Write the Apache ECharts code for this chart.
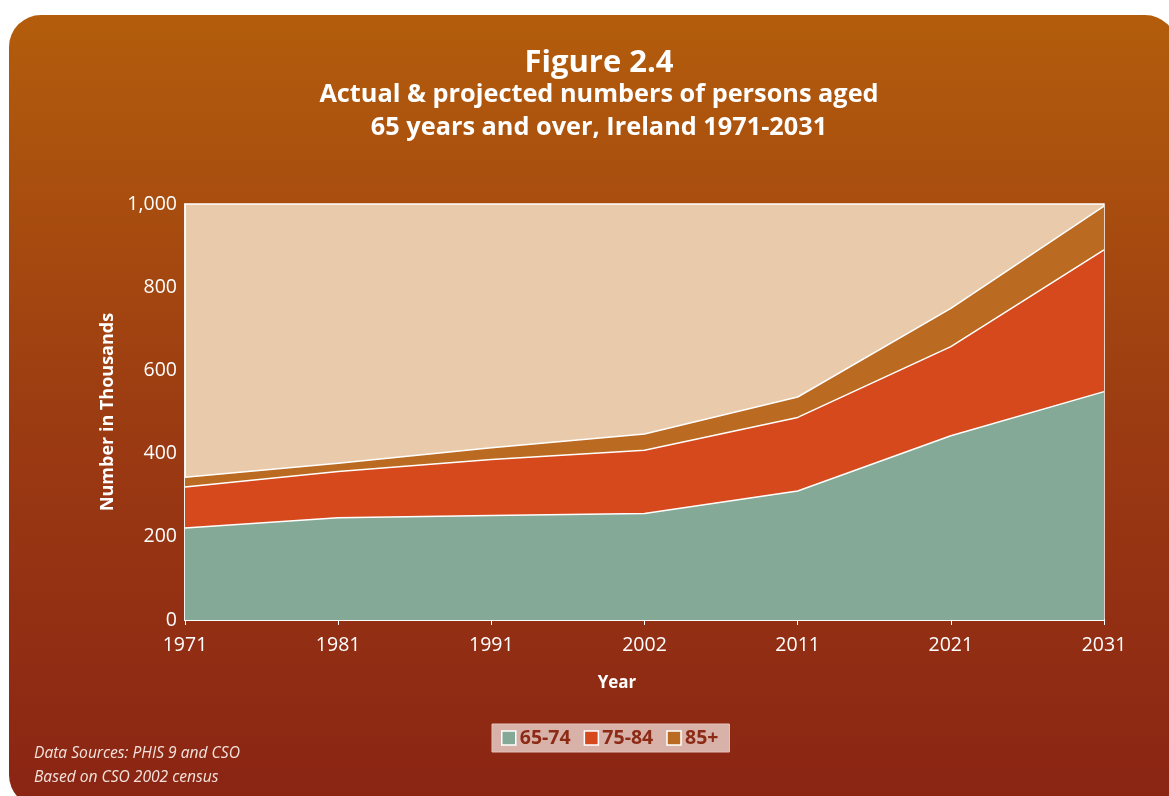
<!DOCTYPE html>
<html>
<head>
<meta charset="utf-8">
<script src="https://cdn.jsdelivr.net/npm/echarts@6/dist/echarts.min.js"></script>
<style>
html,body{margin:0;padding:0;background:#fff;}
#c{width:1169px;height:796px;}
</style>
</head>
<body>
<div id="c"></div>
<script>
var years = ['1971','1981','1991','2002','2011','2021','2031'];
var age65to74 = [221, 246, 251, 256, 310, 443, 549];
var age75to84 = [99, 111, 135, 152, 177, 214, 341];
var age85plus = [23, 20, 28, 39, 49, 92, 105];
var seriesNames = ['65-74', '75-84', '85+'];
var seriesColors = ['#84a996', '#d5491c', '#bb6a22'];

var FONT = '"Open Sans", "Noto Sans", sans-serif';
var chart = echarts.init(document.getElementById('c'), null, {renderer: 'canvas'});

function mk(name, data, color) {
  return {
    name: name,
    type: 'line',
    stack: 'total',
    data: data,
    symbol: 'none',
    smooth: false,
    color: color,
    itemStyle: {color: color, borderColor: '#ffffff', borderWidth: 1.5},
    lineStyle: {color: '#ffffff', width: 1.5},
    areaStyle: {color: color, opacity: 1},
    emphasis: {disabled: true}
  };
}

chart.setOption({
  animation: false,
  backgroundColor: 'transparent',
  graphic: [{
    type: 'rect',
    z: -10,
    shape: {x: 9, y: 15, width: 1168, height: 792, r: 32},
    style: {
      fill: new echarts.graphic.LinearGradient(0, 0, 0, 1, [
        {offset: 0, color: '#b35d0c'},
        {offset: 0.5, color: '#9c3c12'},
        {offset: 1, color: '#8a2414'}
      ])
    }
  }, {
    type: 'text',
    left: 34, top: 742,
    style: {text: 'Data Sources: PHIS 9 and CSO\nBased on CSO 2002 census', fill: '#f3e3dc',
      font: 'italic 15.6px ' + FONT, lineHeight: 24}
  }, {
    type: 'text',
    x: 617, y: 683,
    style: {text: 'Year', fill: '#ffffff', font: 'bold 17px ' + FONT, align: 'center', verticalAlign: 'middle'}
  }],
  title: {
    text: 'Figure 2.4',
    subtext: 'Actual & projected numbers of persons aged\n65 years and over, Ireland 1971-2031',
    left: 594, textAlign: 'center', top: 38,
    itemGap: -5,
    textStyle: {color: '#ffffff', fontFamily: FONT, fontWeight: 'bold', fontSize: 31, lineHeight: 40},
    subtextStyle: {color: '#ffffff', fontFamily: FONT, fontWeight: 'bold', fontSize: 25.3, lineHeight: 33}
  },
  legend: {
    data: seriesNames,
    left: 492, top: 724,
    backgroundColor: '#d8b2a8',
    borderColor: '#e4c3bb', borderWidth: 1,
    padding: [4, 11, 4, 9],
    itemWidth: 14, itemHeight: 14, itemGap: 13,
    icon: 'rect',
    itemStyle: {borderColor: '#ffffff', borderWidth: 1.5},
    textStyle: {color: '#8c2a16', fontFamily: FONT, fontWeight: 'bold', fontSize: 19.5, padding: [0, 0, 0, -1]}
  },
  grid: {
    left: 185, right: 65, top: 204, bottom: 176,
    show: true, backgroundColor: '#e9cbac', borderColor: '#ffffff', borderWidth: 1.5
  },
  xAxis: {
    type: 'category',
    data: years,
    boundaryGap: false,
    axisLine: {lineStyle: {color: '#ffffff', width: 2}},
    axisTick: {show: true, length: 5, lineStyle: {color: '#ffffff'}},
    axisLabel: {color: '#ffffff', fontFamily: FONT, fontSize: 19.5, margin: 15},
    splitLine: {show: false}
  },
  yAxis: {
    type: 'value',
    min: 0, max: 1000, interval: 200,
    name: 'Number in Thousands', nameLocation: 'middle', nameGap: 68, nameRotate: 90,
    nameTextStyle: {color: '#ffffff', fontFamily: FONT, fontWeight: 'bold', fontSize: 18},
    axisLine: {show: true, lineStyle: {color: '#ffffff', width: 1.5}},
    axisTick: {show: false},
    axisLabel: {color: '#ffffff', fontFamily: FONT, fontSize: 19.5, margin: 8,
      formatter: function (v) { return v.toLocaleString('en-US'); }},
    splitLine: {show: false}
  },
  series: [
    mk(seriesNames[0], age65to74, seriesColors[0]),
    mk(seriesNames[1], age75to84, seriesColors[1]),
    mk(seriesNames[2], age85plus, seriesColors[2])
  ]
});
</script>
</body>
</html>
